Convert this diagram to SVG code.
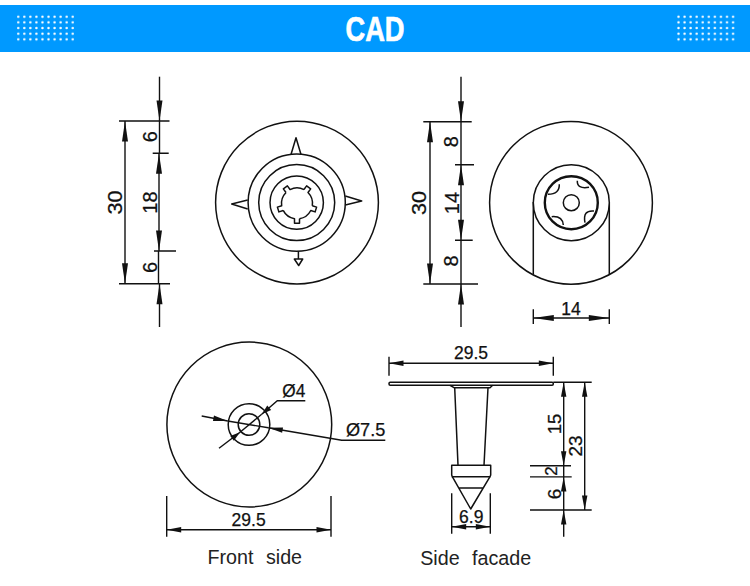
<svg xmlns="http://www.w3.org/2000/svg" width="750" height="586" viewBox="0 0 750 586">
<style>
text{font-family:"Liberation Sans",Arial,sans-serif;fill:#111}
.l{fill:none;stroke:#111;stroke-width:1.5;stroke-linejoin:round}
.d{fill:none;stroke:#111;stroke-width:1.4}
.w{fill:#fff;stroke:#111;stroke-width:1.5;stroke-linejoin:round}
.m{text-anchor:middle;font-size:17.5px;stroke:#111;stroke-width:.25px}
.v{text-anchor:middle;font-size:20px;stroke:#111;stroke-width:.25px}
.c{font-size:19.7px;word-spacing:7px;fill:#222}
</style>
<defs>
<marker id="a" markerUnits="userSpaceOnUse" markerWidth="21" markerHeight="7" refX="20.5" refY="3.5" orient="auto-start-reverse" overflow="visible"><path d="M0 .5L20.5 3.5L0 6.5Z" fill="#111"/></marker>
<marker id="b" markerUnits="userSpaceOnUse" markerWidth="15" markerHeight="6" refX="14.5" refY="3" orient="auto-start-reverse" overflow="visible"><path d="M0 .3L14.5 3L0 5.7Z" fill="#111"/></marker>
<marker id="s" markerUnits="userSpaceOnUse" markerWidth="10" markerHeight="7" refX="10" refY="3.5" orient="auto-start-reverse" overflow="visible"><path d="M0 .5L10 3.5L0 6.5Z" fill="#111"/></marker>
<pattern id="dots" patternUnits="userSpaceOnUse" x="15.2" y="13.9" width="6.06" height="5.66"><circle cx="3.03" cy="2.83" r="1.2" fill="#fff"/></pattern>
<path id="lobe" class="l" d="M15.3-2.5L19.8-2.5L19.8 2.5L15.3 2.5A15.5 15.5 0 0 1 7.04 13.81"/>
</defs>

<g id="header">
<rect x="0" y="5" width="750" height="47" fill="#0099ff"/>
<rect id="dotsL" x="15.2" y="13.9" width="60.6" height="28.3" fill="url(#dots)"/>
<rect x="15.2" y="13.9" width="60.6" height="28.3" fill="url(#dots)" transform="translate(660.3 0)"/>
<text x="375" y="40.7" text-anchor="middle" font-size="35" font-weight="700" textLength="59" lengthAdjust="spacingAndGlyphs" style="fill:#fff;stroke:#fff;stroke-width:.7px">CAD</text>
</g>

<g id="front-head">
<circle class="l" cx="297" cy="202.6" r="81.4"/>
<path class="l" d="M291 154.5L296 137.7L301 154.5M247.7 200L231.7 204L247.7 209M345.3 196L361.7 201L345.3 205M298.4 251V259"/>
<path class="l" d="M294.3 259H302.7L298.7 265.5Z"/>
<circle class="l" cx="296.7" cy="202.6" r="48.6"/>
<circle class="l" cx="296.7" cy="202.6" r="38"/>
<circle class="l" cx="296.7" cy="202.6" r="26.7"/>
<g transform="translate(297 203.4)">
<use href="#lobe" transform="rotate(90)"/>
<use href="#lobe" transform="rotate(162)"/>
<use href="#lobe" transform="rotate(234)"/>
<use href="#lobe" transform="rotate(306)"/>
<use href="#lobe" transform="rotate(18)"/>
</g>
</g>

<g id="back-head">
<circle class="l" cx="571" cy="202.8" r="81.4"/>
<path class="l" d="M533.3 202V274.6M609.3 202V274.6"/>
<circle class="w" cx="571.3" cy="202.7" r="38"/>
<circle cx="571.3" cy="202.7" r="26.5" fill="none" stroke="#111" stroke-width="2.4"/>
<circle class="l" cx="571.3" cy="202.7" r="8"/>
<path class="l" d="M548 194.3Q559.7 194.1 559.3 184.3M577.3 180.7Q576.9 189.4 589 187.3M594 211Q582.5 209.8 585 222.7M551.7 216.7Q562.5 215.8 563.3 225"/>
</g>

<g id="front-side">
<circle class="l" cx="249.3" cy="424.5" r="82.4"/>
<circle class="l" cx="249" cy="424.5" r="20.8"/>
<circle class="l" cx="249" cy="424.5" r="10.8"/>
</g>

<g id="side-facade">
<rect class="l" x="389" y="382.3" width="164.3" height="3" rx="1.2"/>
<path class="l" d="M450 385.3L454 387.7H490L492.7 385.3"/>
<path class="l" d="M454.7 387.7L458 465.3M488 387.7L484 465.3"/>
<path class="l" d="M451.7 465.3H490.7V475L490 476.7H452.3L451.7 475Z"/>
<path class="l" d="M452.3 476.7L470.7 509L490 476.7M459.3 488H482.7"/>
</g>

<g id="connectors">
<path class="d" d="M119 121H169.5M119 283.8H170M152.7 153.3H168.7M154 251H176"/>
<path class="d" d="M125 121V283.8" marker-start="url(#a)" marker-end="url(#a)"/>
<path class="d" d="M159.5 76.7V121" marker-end="url(#a)"/>
<path class="d" d="M159 153.3V251" marker-start="url(#a)" marker-end="url(#a)"/>
<path class="d" d="M159.5 121V153.3M158.5 251V283.8"/>
<path class="d" d="M159.5 327V283.8" marker-end="url(#a)"/>

<path class="d" d="M423.3 121.7H471.7M423.3 284H478M455 164.7H474M455 240.3H472.7"/>
<path class="d" d="M430 121.7V284" marker-start="url(#a)" marker-end="url(#a)"/>
<path class="d" d="M461 76.7V121.7" marker-end="url(#a)"/>
<path class="d" d="M461 164.7V240.3" marker-start="url(#a)" marker-end="url(#a)"/>
<path class="d" d="M461 121.7V164.7M461 240.3V284"/>
<path class="d" d="M461 327V284" marker-end="url(#a)"/>

<path class="d" d="M533.3 309.3V324M609.3 309.3V324"/>
<path class="d" d="M533.3 318H609.3" marker-start="url(#a)" marker-end="url(#a)"/>

<path class="d" d="M166.7 496V536.7M331 496V536.7"/>
<path class="d" d="M166.7 529.7H331" marker-start="url(#b)" marker-end="url(#b)"/>
<path class="d" d="M219 448.3L240 432.3" marker-end="url(#s)"/>
<path class="d" d="M240 432.3L261.7 414.3"/>
<path class="d" d="M305.3 400.7H277.3L261.7 414.3" marker-end="url(#s)"/>
<path class="d" d="M201.7 416L227.7 421" marker-end="url(#b)"/>
<path class="d" d="M227.7 421L268.3 427.7"/>
<path class="d" d="M385.3 440.3H341.7L268.3 427.7" marker-end="url(#b)"/>

<path class="d" d="M389 356.7V375.7M553.3 356.7V375.7"/>
<path class="d" d="M389 363.3H553.3" marker-start="url(#b)" marker-end="url(#b)"/>
<path class="d" d="M451.7 493.3V533.7M490.3 493.3V533.7"/>
<path class="d" d="M451.7 526.7H490.3" marker-start="url(#b)" marker-end="url(#b)"/>
<path class="d" d="M553.3 382.3H591.7M530 465.7H571M530 476.9H571.7M530 510H591.7"/>
<path class="d" d="M584.7 382.3V510" marker-start="url(#b)" marker-end="url(#b)"/>
<path class="d" d="M563.7 382.3V465.7" marker-start="url(#b)" marker-end="url(#b)"/>
<path class="d" d="M563.7 465.7V476.9"/>
<path class="d" d="M563.7 510V476.9" marker-end="url(#b)"/>
<path class="d" d="M563.7 536.7V510" marker-end="url(#b)"/>
</g>

<g id="labels">
<text class="v" transform="translate(121.7 202.5) rotate(-90)" textLength="24" lengthAdjust="spacingAndGlyphs">30</text>
<text class="v" transform="translate(156.7 136.7) rotate(-90)">6</text>
<text class="v" transform="translate(156.7 202.5) rotate(-90)">18</text>
<text class="v" transform="translate(156.7 267.5) rotate(-90)">6</text>
<text class="v" transform="translate(426 203) rotate(-90)" textLength="24" lengthAdjust="spacingAndGlyphs">30</text>
<text class="v" transform="translate(458 141.7) rotate(-90)">8</text>
<text class="v" transform="translate(459 203) rotate(-90)">14</text>
<text class="v" transform="translate(458 261) rotate(-90)">8</text>
<text class="m" x="571" y="315">14</text>
<text class="m" x="248.6" y="525.7">29.5</text>
<text class="m" style="text-anchor:start" x="282.3" y="396.7" textLength="23" lengthAdjust="spacingAndGlyphs">Ø4</text>
<text class="m" style="text-anchor:start" x="346" y="436" textLength="39.3" lengthAdjust="spacingAndGlyphs">Ø7.5</text>
<text class="m" x="471" y="359.3">29.5</text>
<text class="m" x="471.2" y="522.7">6.9</text>
<text class="v" style="font-size:18.5px" transform="translate(561 424) rotate(-90)">15</text>
<text class="v" style="font-size:17px" transform="translate(556.7 471) rotate(-90)">2</text>
<text class="v" style="font-size:19px" transform="translate(561 494) rotate(-90)">6</text>
<text class="v" style="font-size:19px" transform="translate(581.7 446) rotate(-90)">23</text>
<text class="c" x="207.5" y="564">Front side</text>
<text class="c" x="420.2" y="565">Side facade</text>
</g>
</svg>
